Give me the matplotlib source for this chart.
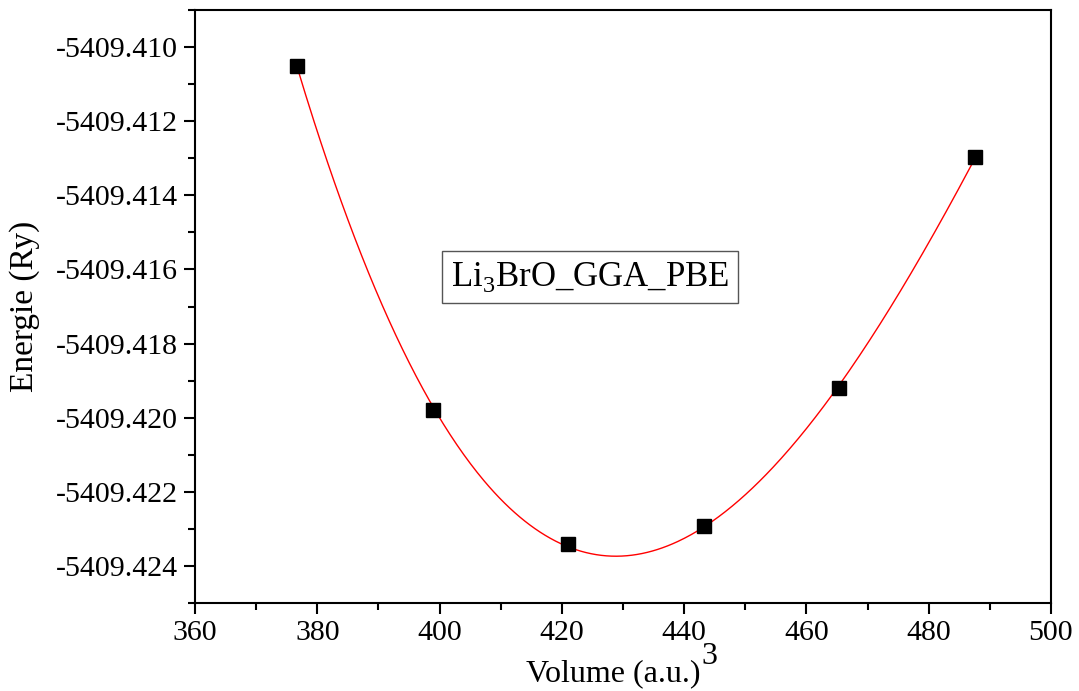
import numpy as np
import matplotlib
matplotlib.use("Agg")
import matplotlib.pyplot as plt
from matplotlib.ticker import MultipleLocator, FormatStrFormatter

plt.rcParams['font.family'] = ['Liberation Serif', 'DejaVu Serif']
plt.rcParams['mathtext.fontset'] = 'custom'
plt.rcParams['mathtext.rm'] = 'Liberation Serif'

volume = [376.7, 398.9, 421.0, 443.3, 465.3, 487.6]
energy = [-5409.41051, -5409.41978, -5409.42341, -5409.42292, -5409.41919, -5409.41297]
label_text = "Li$_3$BrO_GGA_PBE"

W, H = 1079, 691
fig = plt.figure(figsize=(W/100, H/100), dpi=100)
ax = fig.add_axes([195/W, 1 - 603/H, (1051-195)/W, (603-10)/H])

# fit curve through the data (cubic least squares)
coef = np.polyfit(volume, energy, 3)
vv = np.linspace(min(volume), max(volume), 400)
ax.plot(vv, np.polyval(coef, vv), color='red', lw=1.0, zorder=2)
ax.plot(volume, energy, 's', color='black', ms=9.5, zorder=3)

ax.set_xlim(360, 500)
ax.set_ylim(-5409.425, -5409.409)
ax.xaxis.set_major_locator(MultipleLocator(20))
ax.xaxis.set_minor_locator(MultipleLocator(10))
ax.yaxis.set_major_locator(MultipleLocator(0.002))
ax.yaxis.set_minor_locator(MultipleLocator(0.001))
ax.yaxis.set_major_formatter(FormatStrFormatter('%.3f'))
ax.tick_params(which='both', direction='out', top=False, right=False, labelsize=21.5, width=1.5)
ax.tick_params(which='major', length=8, pad=4)
ax.tick_params(which='minor', length=5)
for s in ax.spines.values():
    s.set_linewidth(1.5)

ax.set_ylabel("Energie (Ry)", fontsize=24, labelpad=12)

# x label with full-size raised superscript
fig.text(700/W, 1 - 681/H, "Volume (a.u.)", fontsize=23, ha='right', va='baseline')
fig.text(701/W, 1 - 664/H, "3", fontsize=23, ha='left', va='baseline')

ax.text(424.6, -5409.4162, label_text, fontsize=25, ha='center', va='center',
        bbox=dict(boxstyle='square,pad=0.25', fc='white', ec='#555555', lw=1))

fig.savefig("out.png", dpi=100)
